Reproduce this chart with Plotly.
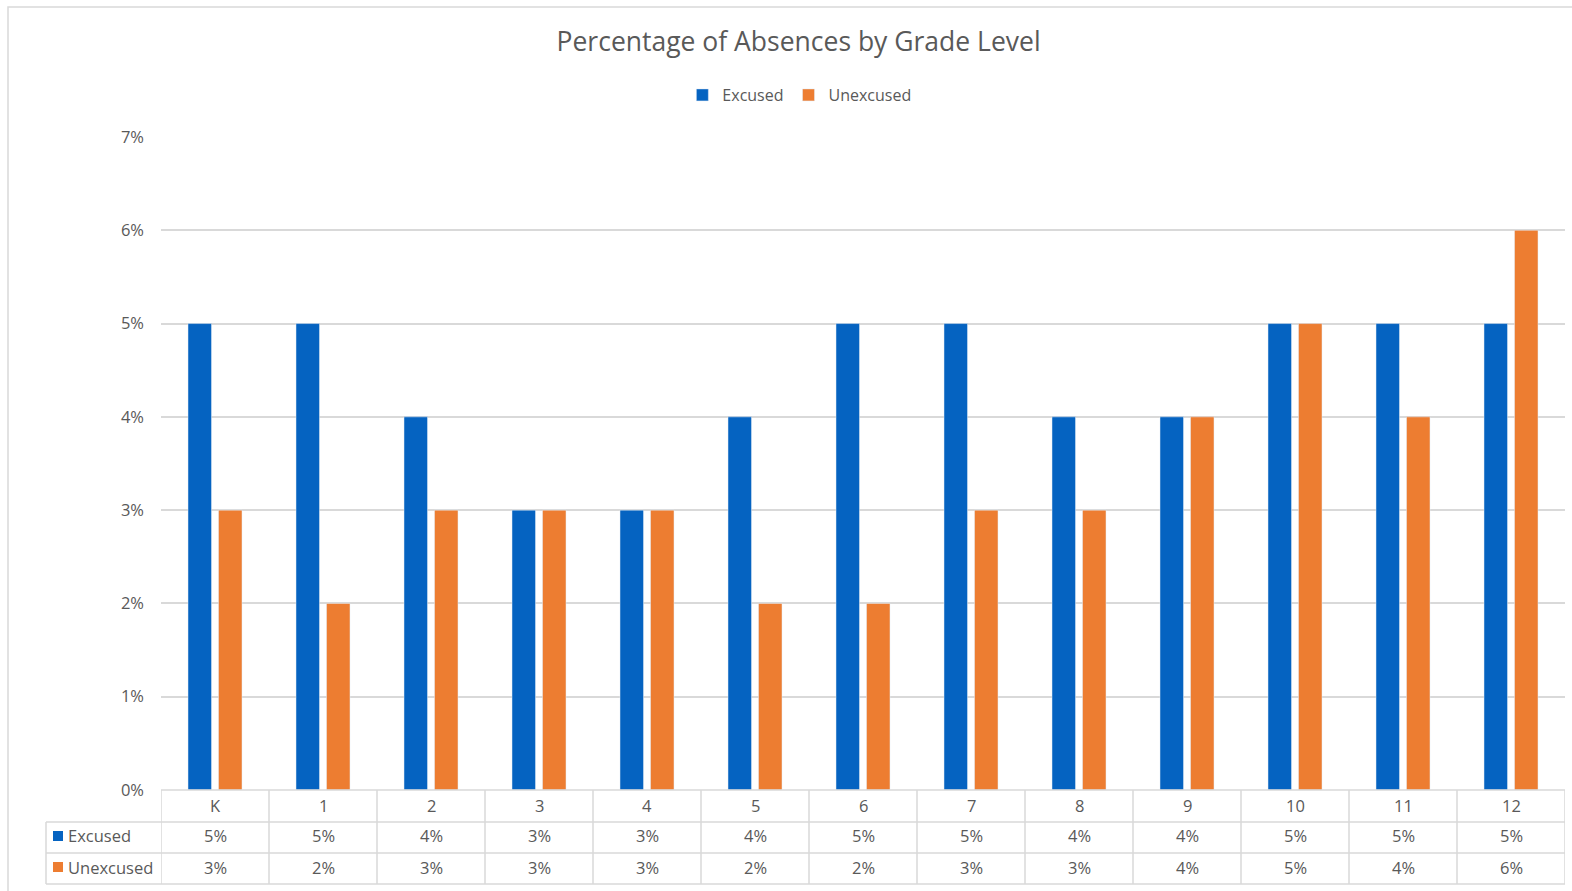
import plotly.graph_objects as go

# ---- data ----
grades = ["K", "1", "2", "3", "4", "5", "6", "7", "8", "9", "10", "11", "12"]
excused = [0.05, 0.05, 0.04, 0.03, 0.03, 0.04, 0.05, 0.05, 0.04, 0.04, 0.05, 0.05, 0.05]
unexcused = [0.03, 0.02, 0.03, 0.03, 0.03, 0.02, 0.02, 0.03, 0.03, 0.04, 0.05, 0.04, 0.06]
series_names = ["Excused", "Unexcused"]
y_ticks = [0, 0.01, 0.02, 0.03, 0.04, 0.05, 0.06, 0.07]

# ---- style ----
W, H = 1572, 891
L, R, T, B = 161, 7, 137, 101
BLUE = "#0563C1"
ORANGE = "#ED7D31"
TXT = "#595959"
GRID = "#D9D9D9"
FONT = "Open Sans"

plot_w = W - L - R
plot_h = H - T - B


def px_x(px):
    return (px - L) / plot_w


def px_y(py):
    return (H - B - py) / plot_h


fig = go.Figure()
fig.add_trace(go.Bar(x=grades, y=excused, name=series_names[0], marker_color=BLUE))
fig.add_trace(go.Bar(x=grades, y=unexcused, name=series_names[1], marker_color=ORANGE))

fig.update_layout(
    width=W, height=H,
    margin=dict(l=L, r=R, t=T, b=B),
    paper_bgcolor="white", plot_bgcolor="white",
    barmode="group", bargap=0.435, bargroupgap=0.23,
    font=dict(family=FONT, color=TXT, size=16),
    title=dict(text="Percentage of Absences by Grade Level", x=0.508, xanchor="center",
               xref="container", yref="container", y=1 - 42 / H, yanchor="middle",
               font=dict(size=26.5, color=TXT, family=FONT)),
    legend=dict(orientation="h", xref="container", yref="container", x=0.5085, xanchor="center",
                y=1 - 95 / H, yanchor="middle", font=dict(size=16, color=TXT), itemwidth=30,
                bgcolor="rgba(0,0,0,0)"),
    showlegend=True,
)
fig.update_xaxes(type="category", showticklabels=False, showgrid=False, zeroline=False,
                 showline=False, ticks="", range=[-0.5, len(grades) - 0.5])
fig.update_yaxes(range=[0, 0.07], tickvals=y_ticks, tickformat=".0%", showgrid=True,
                 gridcolor=GRID, gridwidth=1.5, zeroline=False, showline=False, ticks="",
                 ticklabelstandoff=16, tickfont=dict(size=16.5, color=TXT))

shapes = []
# outer chart border
shapes.append(dict(type="rect", xref="paper", yref="paper", x0=px_x(8), x1=px_x(1580),
                   y0=px_y(900), y1=px_y(7), line=dict(color=GRID, width=1.5)))

# data table
row_tops = [790, 822, 853, 884]
for i, ry in enumerate(row_tops):
    x_left = 161 if i == 0 else 46
    shapes.append(dict(type="line", xref="paper", yref="paper", x0=px_x(x_left), x1=1,
                       y0=px_y(ry), y1=px_y(ry), line=dict(color=GRID, width=1.5)))
for i in range(len(grades) + 1):
    shapes.append(dict(type="line", xref="x", yref="paper", x0=i - 0.5, x1=i - 0.5,
                       y0=px_y(790), y1=px_y(884), line=dict(color=GRID, width=1.5)))
shapes.append(dict(type="line", xref="paper", yref="paper", x0=px_x(46), x1=px_x(46),
                   y0=px_y(822), y1=px_y(884), line=dict(color=GRID, width=1.5)))

annotations = []
row_centers = [805, 836, 867]
for g in grades:
    annotations.append(dict(x=g, xref="x", y=px_y(row_centers[0]), yref="paper", text=g,
                            xanchor="center", yanchor="middle",
                            showarrow=False, font=dict(size=16.5, color=TXT)))
for vals, rc in ((excused, row_centers[1]), (unexcused, row_centers[2])):
    for g, v in zip(grades, vals):
        annotations.append(dict(x=g, xref="x", y=px_y(rc), yref="paper", text=f"{v:.0%}",
                                xanchor="center", yanchor="middle",
                                showarrow=False, font=dict(size=16.5, color=TXT)))
for name, col, rc in ((series_names[0], BLUE, row_centers[1]), (series_names[1], ORANGE, row_centers[2])):
    shapes.append(dict(type="rect", xref="paper", yref="paper", x0=px_x(53), x1=px_x(63),
                       y0=px_y(rc + 5), y1=px_y(rc - 5), fillcolor=col, line=dict(width=0)))
    annotations.append(dict(x=px_x(66), xref="paper", y=px_y(rc), yref="paper", text=name,
                            xanchor="left", yanchor="middle",
                            showarrow=False, font=dict(size=16.5, color=TXT)))

fig.update_layout(shapes=shapes, annotations=annotations)
fig.write_html("out.html", config={"displayModeBar": False},
               post_script="document.body.style.margin='0';document.body.style.overflow='hidden';")
